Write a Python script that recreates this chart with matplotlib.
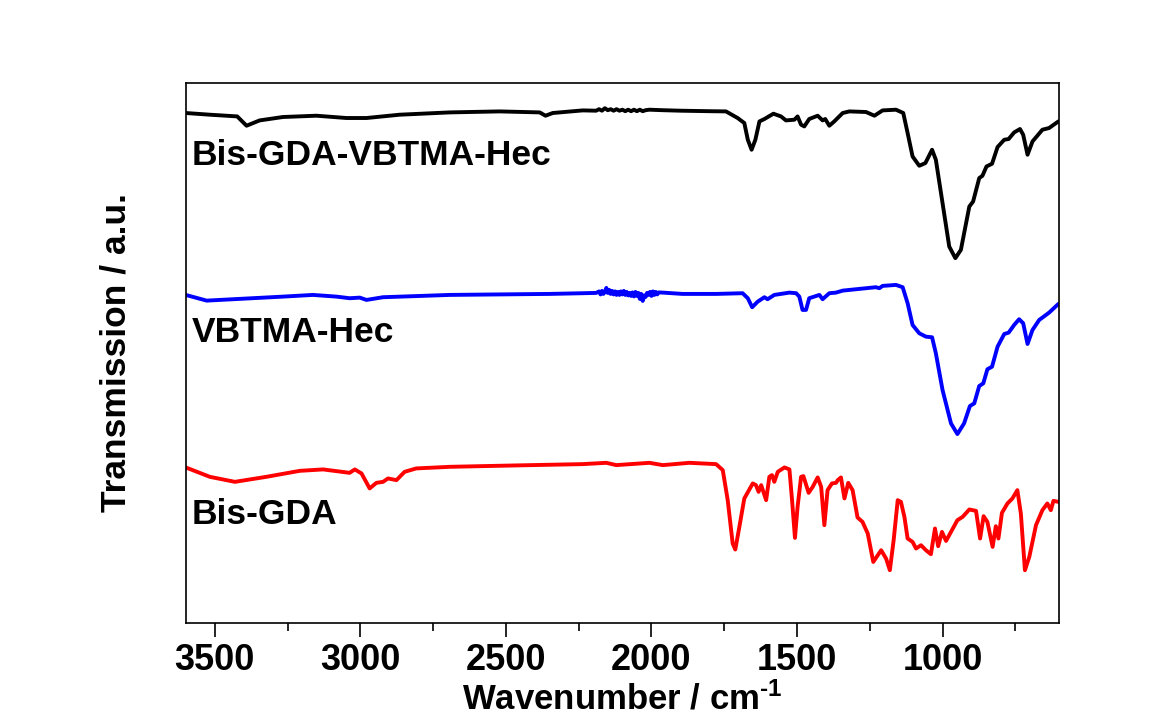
import matplotlib
matplotlib.use('Agg')
import matplotlib.pyplot as plt

plt.rcParams['font.family'] = ['Liberation Sans', 'DejaVu Sans']
plt.rcParams['font.weight'] = 'bold'
plt.rcParams['mathtext.fontset'] = 'custom'
plt.rcParams['mathtext.rm'] = 'Liberation Sans:bold'
plt.rcParams['mathtext.default'] = 'rm'

# Bis-GDA-VBTMA-Hec (black), wavenumber / cm-1 and transmission (a.u., offset)
wn_black = [3600, 3517, 3423, 3391, 3346, 3266, 3151, 3048, 2979, 2865, 2693, 2522,
            2384, 2364, 2339, 2236, 2190, 2180, 2170, 2160, 2150, 2140, 2130, 2120,
            2110, 2100, 2090, 2080, 2070, 2060, 2050, 2040, 2030, 2020, 2007,
            1961, 1900, 1800, 1744, 1704, 1681, 1669, 1656, 1643, 1629, 1612, 1581,
            1555, 1538, 1509, 1498, 1486, 1475, 1458, 1429, 1412, 1403, 1389, 1372,
            1343, 1320, 1263, 1234, 1206, 1160, 1135, 1120, 1103, 1080, 1059, 1036,
            1023, 1000, 977, 956, 937, 908, 895, 874, 863, 849, 830, 811, 788, 773,
            754, 734, 723, 708, 691, 657, 634, 602]
t_black = [509.7, 508, 506.3, 497, 502.3, 505.7, 507, 504.7, 504.7, 508, 510.3, 511.3,
           510.3, 507, 509.7, 512.3, 512, 513.5, 512, 514.5, 512.5, 513.5, 512, 513.5,
           512, 513, 511.5, 513, 511.5, 513, 511.5, 513, 511.5, 512.5, 513,
           512.5, 512, 511.5, 511.3, 504.7, 499.7, 483, 473, 483, 501.3, 503.7, 509,
           506.3, 502.3, 503, 506.3, 498, 496.3, 503.7, 507, 502.3, 503.7, 497, 501.3,
           509.7, 511.3, 510.7, 507, 512.3, 513, 509.7, 489.7, 466.3, 457, 459.7, 473,
           463, 419.7, 376.3, 364.7, 373, 416.3, 421.3, 444.7, 447, 456.3, 459, 475.7,
           483, 483.7, 490.3, 493.7, 488, 468, 481.3, 493, 494.7, 501.3]

# VBTMA-Hec (blue)
wn_blue = [3600, 3528, 3437, 3266, 3163, 3082, 3037, 3002, 2979, 2922, 2693, 2350,
           2236, 2190, 2180, 2175, 2170, 2165, 2160, 2155, 2150, 2145, 2140, 2135,
           2130, 2125, 2120, 2115, 2110, 2105, 2100, 2095, 2090, 2085, 2080, 2075,
           2070, 2065, 2060, 2055, 2050, 2045, 2040, 2035, 2030, 2025, 2020, 2015,
           2010, 2005, 2000, 1995, 1990, 1985, 1980, 1975,
           1961, 1893, 1778, 1687, 1669, 1654, 1635, 1612, 1601, 1578, 1526, 1503,
           1492, 1481, 1469, 1458, 1423, 1412, 1389, 1366, 1343, 1229, 1217, 1206,
           1160, 1137, 1120, 1103, 1080, 1057, 1036, 1023, 1000, 971, 949, 926, 906,
           891, 874, 860, 846, 830, 811, 788, 773, 754, 737, 723, 708, 691, 668, 634,
           602]
t_blue = [328, 322.3, 323.7, 326.3, 328, 326.3, 324.7, 325.3, 323, 325.7, 328, 329,
          329.7, 330, 331.5, 328.5, 332, 329, 331, 335, 330, 333, 329, 332,
          328.5, 331.5, 328, 331, 328, 331.5, 328.5, 332, 328, 331, 327.5, 330,
          327, 330.5, 326.5, 331, 327, 330, 324, 329, 322, 327.5, 326, 330,
          328, 331, 327, 331.5, 328, 331, 328.5, 330.5,
          330.3, 329, 329, 329.7, 324.7, 315.7, 321.3, 325.7, 323.7, 328, 330.3, 329.7,
          326.3, 313, 313, 324.7, 328, 323.7, 329.7, 330.3, 332.3, 335.7, 334.7, 337,
          338, 335.7, 319.7, 298, 289.7, 286.3, 285.7, 269.7, 233, 199.7, 189, 199.7, 217,
          219.7, 237, 239.7, 253.7, 256.3, 276.3, 289, 290.3, 298, 303.7, 299.7, 279, 293,
          303, 310.3, 319]

# Bis-GDA (red)
wn_red = [3600, 3517, 3431, 3323, 3208, 3128, 3037, 3019, 2996, 2968, 2945, 2922,
          2905, 2876, 2848, 2808, 2693, 2464, 2236, 2155, 2121, 2007, 1961, 1870,
          1778, 1755, 1738, 1721, 1712, 1698, 1681, 1652, 1641, 1632, 1623, 1606,
          1595, 1586, 1578, 1566, 1543, 1526, 1517, 1507, 1498, 1486, 1478, 1460,
          1446, 1429, 1417, 1406, 1395, 1380, 1366, 1360, 1349, 1337, 1324, 1309,
          1292, 1275, 1257, 1238, 1211, 1194, 1181, 1168, 1154, 1143, 1131, 1120,
          1103, 1091, 1074, 1057, 1040, 1026, 1015, 1002, 988, 971, 949, 931, 908,
          885, 871, 859, 846, 828, 817, 808, 796, 777, 760, 743, 731, 717, 702,
          679, 657, 640, 628, 619, 602]
t_red = [155.7, 146.3, 141.3, 146.3, 152.3, 153.7, 150.3, 153.7, 149.7, 134.7, 140.3, 141.3,
         144.7, 143, 151.3, 154.7, 156.3, 157.7, 159, 160.3, 158, 160.3, 158, 160.3,
         159, 153, 123, 79.7, 73.7, 96.3, 124.7, 139.7, 138, 131.3, 138, 123,
         146.3, 148, 141.3, 151.3, 155.7, 153.7, 123, 85.3, 116.3, 146.3, 147, 130.3,
         136.3, 145.7, 136.3, 98, 133, 139.7, 140.3, 143, 145.7, 124.7, 140.3, 133,
         105.7, 101.3, 89.7, 61.3, 73, 64.7, 53, 83, 123, 121.3, 106.3, 84.7,
         81.3, 74.7, 78, 73, 69, 94.7, 77, 91.3, 82.3, 91.3, 103, 106.3, 113.7,
         112.3, 84.7, 107, 101.3, 76.3, 97, 84.7, 110.3, 119.7, 124.7, 133, 109.7, 53, 66.3,
         98, 113, 119.7, 113, 122.3, 121.3]

names = ['Bis-GDA-VBTMA-Hec', 'VBTMA-Hec', 'Bis-GDA']
name_y = [458, 281, 99]

fig = plt.figure(figsize=(11.65, 7.22), dpi=100)
ax = fig.add_axes([0.1594, 0.1367, 0.7496, 0.7488])

for wn, t, c in [(wn_black, t_black, 'black'), (wn_blue, t_blue, '#0000ff'),
                 (wn_red, t_red, '#ff0000')]:
    ax.plot(wn, t, color=c, lw=2.8, solid_joinstyle='round', solid_capstyle='round')

for name, y in zip(names, name_y):
    ax.text(3580, y, name, fontsize=25.5, fontweight='bold', ha='left', va='baseline')

ax.set_xlim(3600, 600)
ax.set_ylim(0, 540)
ax.set_xticks([3500, 3000, 2500, 2000, 1500, 1000])
ax.set_xticks([3250, 2750, 2250, 1750, 1250, 750], minor=True)
ax.set_yticks([])
ax.tick_params(axis='x', which='major', direction='out', length=10, width=1.2,
               labelsize=26, pad=4)
ax.tick_params(axis='x', which='minor', direction='out', length=6, width=1.2)
for s in ax.spines.values():
    s.set_linewidth(1.2)

ax.set_xlabel(r'Wavenumber / cm$^{\text{-}1}$', fontsize=25, fontweight='bold', labelpad=3)
ax.set_ylabel('Transmission / a.u.', fontsize=25.5, fontweight='bold')
ax.yaxis.set_label_coords(-0.061, 0.5)

plt.savefig('out.png', dpi=100)
